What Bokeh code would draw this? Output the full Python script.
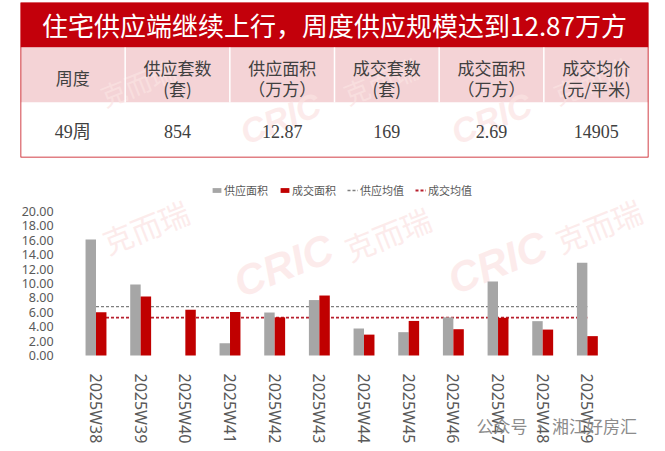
import math
import numpy as np
from bokeh.plotting import figure
from bokeh.layouts import column
from bokeh.models import (Range1d, FixedTicker, NumeralTickFormatter,
                          Legend, LegendItem, Label)
from bokeh.transform import dodge
from bokeh.core.properties import value
from bokeh.embed import file_html
from bokeh.resources import INLINE

# ---------------- data ----------------
title_text = "住宅供应端继续上行，周度供应规模达到12.87万方"
header_line1 = ["周度", "供应套数", "供应面积", "成交套数", "成交面积", "成交均价"]
header_line2 = ["", "(套)", "（万方）", "(套)", "（万方）", "(元/平米)"]
row_values = ["49周", "854", "12.87", "169", "2.69", "14905"]

weeks = ["2025W38", "2025W39", "2025W40", "2025W41", "2025W42", "2025W43",
         "2025W44", "2025W45", "2025W46", "2025W47", "2025W48", "2025W49"]
supply_area = [16.10, 9.86, 0.00, 1.70, 5.97, 7.70, 3.75, 3.24, 5.30, 10.28, 4.77, 12.87]
deal_area = [6.00, 8.20, 6.35, 6.05, 5.30, 8.33, 2.90, 4.80, 3.65, 5.24, 3.60, 2.69]
series_names = ["供应面积", "成交面积", "供应均值", "成交均值"]
y_ticks = [0, 2, 4, 6, 8, 10, 12, 14, 16, 18, 20]
watermark_cn = "克而瑞"
watermark_en = "CRIC"
footer_text = "公众号 · 湘江好房汇"

supply_avg = float(np.mean(supply_area))
deal_avg = float(np.mean(deal_area))
week_idx = list(range(len(weeks)))

# ---------------- styles ----------------
RED = "#c3000b"
PINK = "#f4d3d6"
GRAY_BAR = "#a6a6a6"
RED_BAR = "#c00000"
TXT = "#404040"
AX_TXT = "#595959"
CJK = value("Noto Sans CJK SC")
SERIF = value("Liberation Serif, Noto Sans CJK SC")
WM_COLOR = "#fbe3e3"

W = 665
TOP_H = 160
BOT_H = 451 - TOP_H

# ---------------- table figure ----------------
ncol = len(header_line1)
top = figure(width=W, height=TOP_H, x_range=Range1d(0, ncol), y_range=Range1d(155, 0),
             min_border_left=20, min_border_right=17, min_border_top=2, min_border_bottom=3,
             frame_align=False, output_backend="svg", toolbar_location=None)
top.axis.visible = False
top.grid.visible = False
top.outline_line_color = None

# row bands (title / header / values)
top.quad(left=[0], right=[ncol], top=[0], bottom=[45], fill_color=RED, line_color=None)
top.quad(left=[0], right=[ncol], top=[45], bottom=[100], fill_color=PINK, line_color=None)
top.quad(left=[0], right=[ncol], top=[100], bottom=[155], fill_color="white", line_color=None)

# faint watermarks in table
def tx(px):
    return (px - 20) / 104.67

top.text(x=[tx(280), tx(491)], y=[116, 116], text=[watermark_en] * 2, angle=0.38,
         text_align="center", text_baseline="middle", text_color=WM_COLOR, text_alpha=0.7,
         text_font_size="34px", text_font_style="bold italic", text_font=value("Liberation Sans"))
top.text(x=[tx(137), tx(380), tx(590)], y=[80, 78, 78], text=[watermark_cn] * 3, angle=0.38,
         text_align="center", text_baseline="middle", text_color=WM_COLOR, text_alpha=0.7,
         text_font_size="26px", text_font=CJK)

# column separators in header
top.segment(x0=list(range(1, ncol)), y0=[45] * (ncol - 1), x1=list(range(1, ncol)),
            y1=[100] * (ncol - 1), line_color="white", line_width=1.5)
# border
top.quad(left=[0], right=[ncol], top=[0], bottom=[155], fill_color=None,
         line_color=RED, line_width=1.5)

top.text(x=[ncol / 2], y=[22], text=[title_text], text_align="center", text_baseline="middle",
         text_color="white", text_font_size="26px", text_font=CJK)

cx = [i + 0.5 for i in range(ncol)]
single_x = [cx[i] for i in range(ncol) if header_line2[i] == ""]
single_t = [header_line1[i] for i in range(ncol) if header_line2[i] == ""]
double_x = [cx[i] for i in range(ncol) if header_line2[i] != ""]
double_t1 = [header_line1[i] for i in range(ncol) if header_line2[i] != ""]
double_t2 = [header_line2[i] for i in range(ncol) if header_line2[i] != ""]
hdr = dict(text_align="center", text_baseline="middle", text_color=TXT,
           text_font_size="17px", text_font=CJK)
top.text(x=single_x, y=[75] * len(single_x), text=single_t, **hdr)
top.text(x=double_x, y=[65] * len(double_x), text=double_t1, **hdr)
top.text(x=double_x, y=[86] * len(double_x), text=double_t2, **hdr)
top.text(x=cx, y=[129] * ncol, text=row_values, text_align="center", text_baseline="middle",
         text_color=TXT, text_font_size="18px", text_font=SERIF)

# ---------------- chart figure ----------------
PX_PER_UNIT = 7.2           # vertical scale
CAT_W = 44.67               # width of one week slot in px
FIRST_CX = 95.5             # page x of first week centre
Y_MIN = -96 / PX_PER_UNIT   # frame reaches the page bottom (room for labels / footer)
x_lo = -FIRST_CX / CAT_W
x_hi = (W - FIRST_CX) / CAT_W

p = figure(width=W, height=BOT_H, x_range=Range1d(x_lo, x_hi),
           y_range=Range1d(Y_MIN, 25), min_border_left=0, min_border_right=0,
           min_border_top=15, min_border_bottom=0, frame_align=False,
           output_backend="svg", toolbar_location=None)
p.outline_line_color = None
p.grid.visible = False

def px_to_x(px):
    return (px - FIRST_CX) / CAT_W

def py_to_y(py):
    return (355 - py) / PX_PER_UNIT

# faint watermarks (behind everything)
wm_en = [(283, 265), (497, 262)]
wm_cn = [(145, 226), (387, 233), (598, 225)]
for (a, b) in wm_en:
    p.add_layout(Label(x=px_to_x(a), y=py_to_y(b), text=watermark_en, angle=0.38,
                       text_align="center", text_baseline="middle", text_color=WM_COLOR,
                       text_alpha=0.7, text_font_size="42px", text_font_style="bold italic",
                       text_font="Liberation Sans", level="underlay"))
for (a, b) in wm_cn:
    p.add_layout(Label(x=px_to_x(a), y=py_to_y(b), text=watermark_cn, angle=0.38,
                       text_align="center", text_baseline="middle", text_color=WM_COLOR,
                       text_alpha=0.7, text_font_size="30px", text_font="Noto Sans CJK SC",
                       level="underlay"))

r_sa = p.line(x=week_idx, y=[supply_avg] * len(weeks), line_color="#7f7f7f",
              line_width=1.3, line_dash="3 2")
r_da = p.line(x=week_idx, y=[deal_avg] * len(weeks), line_color="#b8202e",
              line_width=1.8, line_dash="3 2")

src = dict(idx=week_idx, supply=supply_area, deal=deal_area)
r_s = p.vbar(x=dodge("idx", -0.117), top="supply", width=0.234,
             source=src, fill_color=GRAY_BAR, line_color=None)
r_d = p.vbar(x=dodge("idx", 0.117), top="deal", width=0.234,
             source=src, fill_color=RED_BAR, line_color=None)

legend = Legend(items=[LegendItem(label=series_names[0], renderers=[r_s]),
                       LegendItem(label=series_names[1], renderers=[r_d]),
                       LegendItem(label=series_names[2], renderers=[r_sa]),
                       LegendItem(label=series_names[3], renderers=[r_da])],
                location=(211, 251), orientation="horizontal",
                label_text_font_size="11px", label_text_color=AX_TXT,
                label_text_font="Noto Sans CJK SC", glyph_width=11, glyph_height=6,
                label_standoff=2, spacing=11, margin=0, padding=0, label_height=20,
                border_line_color=None, background_fill_alpha=0)
p.add_layout(legend)

p.yaxis.fixed_location = -0.5
p.yaxis.ticker = FixedTicker(ticks=y_ticks)
p.yaxis.formatter = NumeralTickFormatter(format="0.00")
p.yaxis.axis_line_color = None
p.yaxis.major_tick_line_color = None
p.yaxis.minor_tick_line_color = None
p.yaxis.major_label_standoff = 14
p.yaxis.major_label_text_font_size = "12.5px"
p.yaxis.major_label_text_color = AX_TXT
p.yaxis.major_label_text_font = "Noto Sans"

p.xaxis.fixed_location = 0
p.xaxis.ticker = FixedTicker(ticks=week_idx)
p.xaxis.major_label_overrides = {i: w for i, w in zip(week_idx, weeks)}
p.xaxis.axis_line_color = None
p.xaxis.major_tick_line_color = None
p.xaxis.minor_tick_line_color = None
p.xaxis.major_label_orientation = -math.pi / 2
p.xaxis.major_label_standoff = 12
p.xaxis.major_label_text_font_size = "16px"
p.xaxis.major_label_text_color = AX_TXT
p.xaxis.major_label_text_font = "Noto Sans"

p.add_layout(Label(x=px_to_x(476), y=py_to_y(425), text=footer_text, text_align="left",
                   text_baseline="middle", text_color="#8c8c8c", text_font_size="17px",
                   text_font="Noto Sans CJK SC"))

layout = column(top, p, spacing=0)
open("out.html", "w").write(file_html(layout, INLINE))
